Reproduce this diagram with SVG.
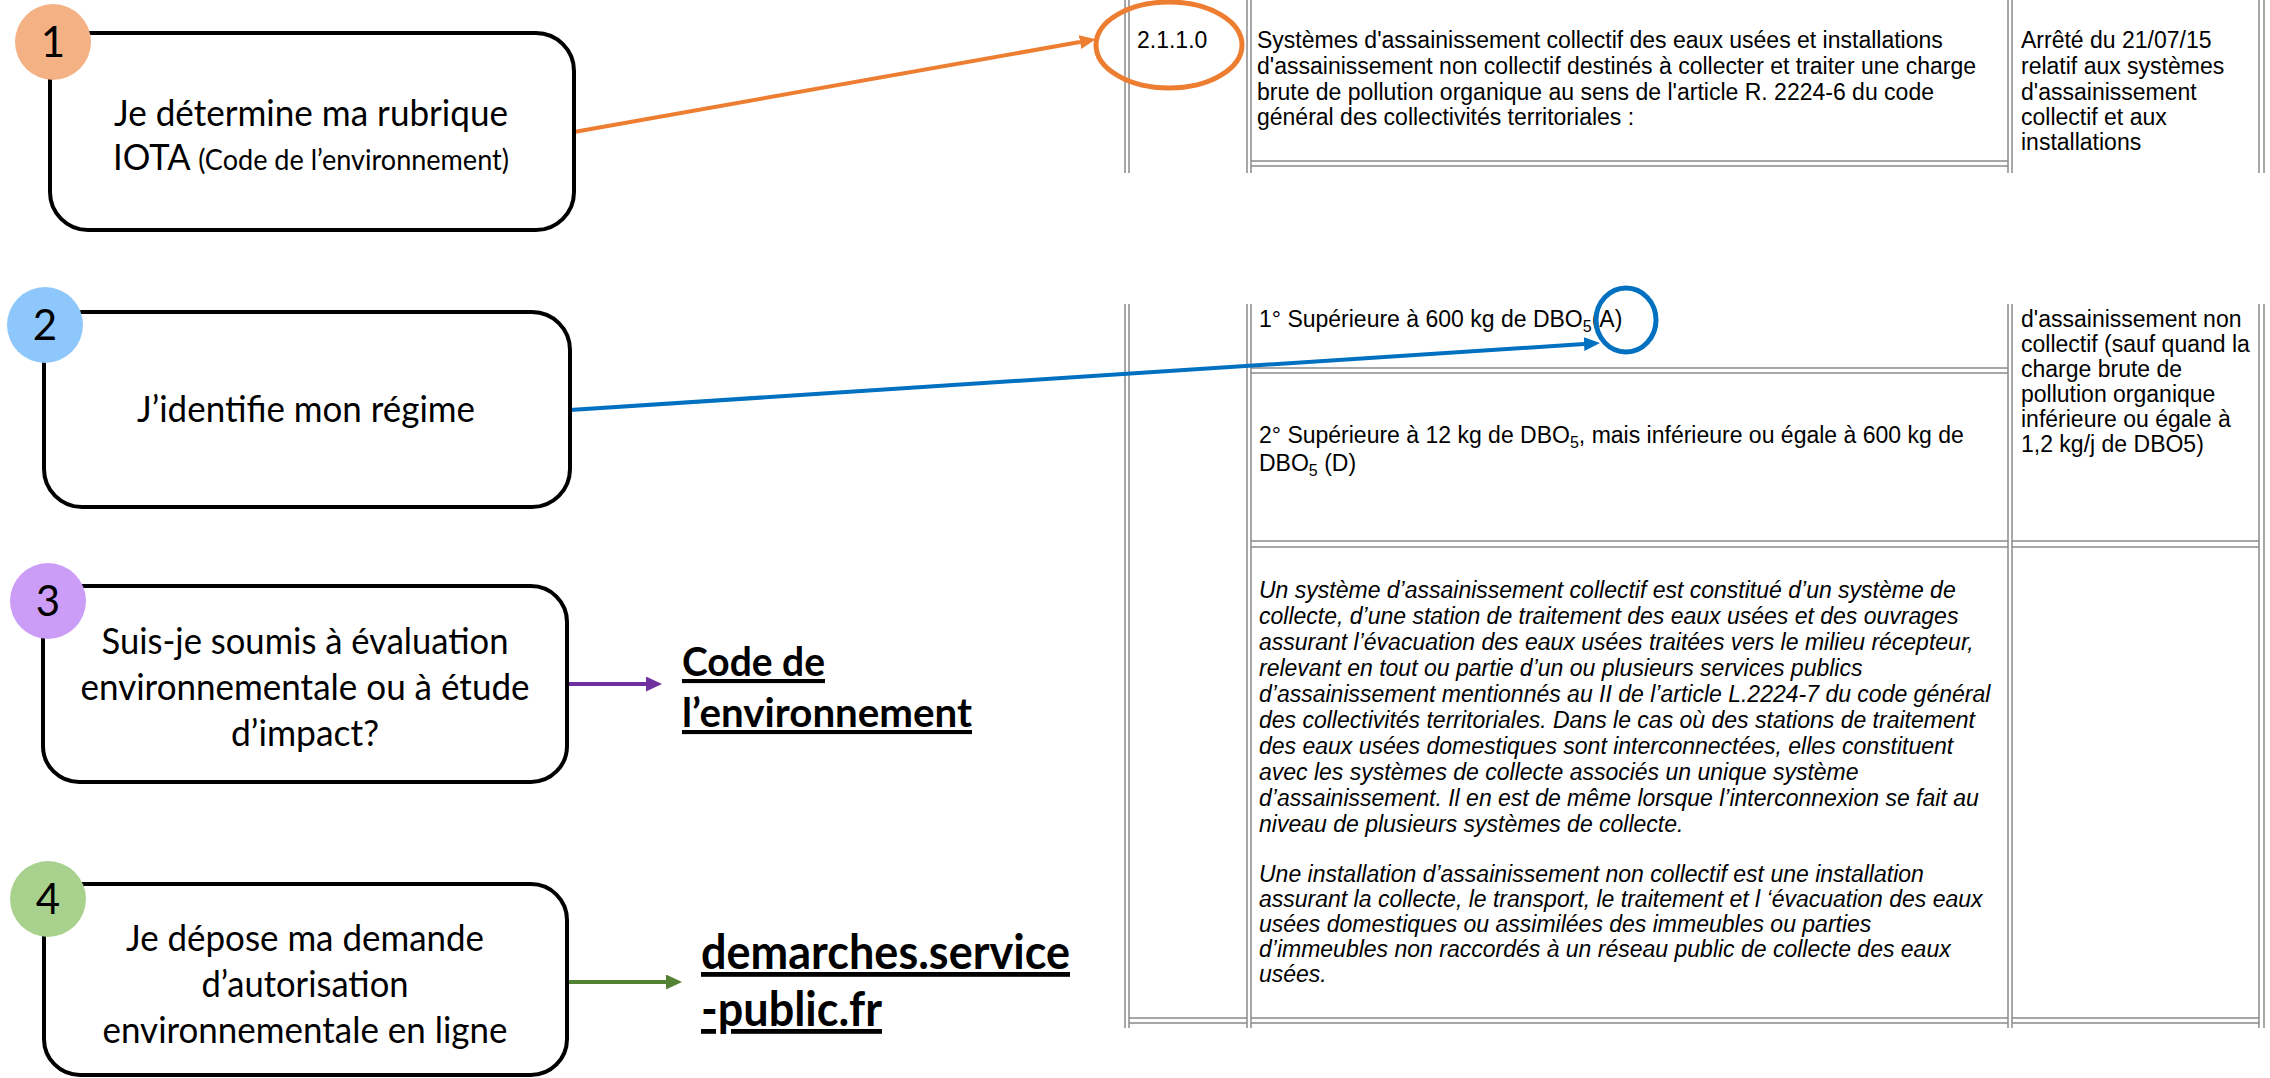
<svg xmlns="http://www.w3.org/2000/svg" width="2270" height="1078" viewBox="0 0 2270 1078">
<defs>
<style>
.box{fill:#fff;stroke:#000;stroke-width:4}
.num{font-family:Lato,'Open Sans',sans-serif;font-size:42px;fill:#000;text-anchor:middle}
.lbl{font-family:Lato,'Open Sans',sans-serif;font-size:37px;fill:#000;text-anchor:middle}
.link{font-family:Lato,'Open Sans',sans-serif;font-weight:bold;fill:#000;text-decoration:underline}
.tb{font-family:'Liberation Sans',Arial,sans-serif;font-size:23px;fill:#000}
.it{font-style:italic}
.grid line{stroke:#8a8a8a;stroke-width:1.5}
.conn{fill:none;stroke-width:4}
.hl{fill:none;stroke-width:5}
</style>
<marker id="ah-o" markerUnits="userSpaceOnUse" viewBox="0 0 16 14" markerWidth="16" markerHeight="14" refX="0" refY="7" orient="auto"><path d="M0,0 L16,7 L0,14 z" fill="#ED7D31"/></marker>
<marker id="ah-b" markerUnits="userSpaceOnUse" viewBox="0 0 16 14" markerWidth="16" markerHeight="14" refX="0" refY="7" orient="auto"><path d="M0,0 L16,7 L0,14 z" fill="#0070C0"/></marker>
<marker id="ah-p" markerUnits="userSpaceOnUse" viewBox="0 0 16 15" markerWidth="16" markerHeight="15" refX="0" refY="7.5" orient="auto"><path d="M0,0 L16,7.5 L0,15 z" fill="#7030A0"/></marker>
<marker id="ah-g" markerUnits="userSpaceOnUse" viewBox="0 0 16 15" markerWidth="16" markerHeight="15" refX="0" refY="7.5" orient="auto"><path d="M0,0 L16,7.5 L0,15 z" fill="#548235"/></marker>
</defs>
<rect width="2270" height="1078" fill="#fff"/>

<!-- Table excerpt -->
<g id="table" class="grid">
  <!-- top piece -->
  <line x1="1125" y1="0" x2="1125" y2="173"/>
  <line x1="1129" y1="0" x2="1129" y2="173"/>
  <line x1="1247" y1="0" x2="1247" y2="173"/>
  <line x1="1251" y1="0" x2="1251" y2="173"/>
  <line x1="2008" y1="0" x2="2008" y2="173"/>
  <line x1="2012" y1="0" x2="2012" y2="173"/>
  <line x1="2259" y1="0" x2="2259" y2="173"/>
  <line x1="2264" y1="0" x2="2264" y2="173"/>
  <line x1="1251" y1="161" x2="2008" y2="161"/>
  <line x1="1251" y1="166" x2="2008" y2="166"/>
  <!-- second piece -->
  <line x1="1125" y1="304" x2="1125" y2="1028"/>
  <line x1="1129" y1="304" x2="1129" y2="1028"/>
  <line x1="1247" y1="304" x2="1247" y2="1028"/>
  <line x1="1251" y1="304" x2="1251" y2="1028"/>
  <line x1="2008" y1="304" x2="2008" y2="1028"/>
  <line x1="2012" y1="304" x2="2012" y2="1028"/>
  <line x1="2259" y1="304" x2="2259" y2="1028"/>
  <line x1="2264" y1="304" x2="2264" y2="1028"/>
  <line x1="1251" y1="368" x2="2008" y2="368"/>
  <line x1="1251" y1="373" x2="2008" y2="373"/>
  <line x1="1251" y1="541" x2="2008" y2="541"/>
  <line x1="1251" y1="547" x2="2008" y2="547"/>
  <line x1="2012" y1="541" x2="2259" y2="541"/>
  <line x1="2012" y1="547" x2="2259" y2="547"/>
  <line x1="1129" y1="1018" x2="1247" y2="1018"/>
  <line x1="1251" y1="1018" x2="2008" y2="1018"/>
  <line x1="2012" y1="1018" x2="2259" y2="1018"/>
  <line x1="1129" y1="1023" x2="1247" y2="1023"/>
  <line x1="1251" y1="1023" x2="2008" y2="1023"/>
  <line x1="2012" y1="1023" x2="2259" y2="1023"/>

  <g class="tb">
    <text x="1137" y="48">2.1.1.0</text>
    <text x="1257" y="48">Systèmes d'assainissement collectif des eaux usées et installations</text>
    <text x="1257" y="74">d'assainissement non collectif destinés à collecter et traiter une charge</text>
    <text x="1257" y="100">brute de pollution organique au sens de l'article R. 2224-6 du code</text>
    <text x="1257" y="125">général des collectivités territoriales :</text>
    <text x="2021" y="48">Arrêté du 21/07/15</text>
    <text x="2021" y="74">relatif aux systèmes</text>
    <text x="2021" y="100">d'assainissement</text>
    <text x="2021" y="125">collectif et aux</text>
    <text x="2021" y="150">installations</text>

    <text x="1259" y="327">1° Supérieure à 600 kg de DBO<tspan font-size="16" dy="5">5</tspan><tspan dy="-5">(A)</tspan></text>
    <text x="1259" y="443">2° Supérieure à 12 kg de DBO<tspan font-size="16" dy="5">5</tspan><tspan dy="-5">, mais inférieure ou égale à 600 kg de</tspan></text>
    <text x="1259" y="471">DBO<tspan font-size="16" dy="5">5</tspan><tspan dy="-5"> (D)</tspan></text>

    <text x="2021" y="327">d'assainissement non</text>
    <text x="2021" y="352">collectif (sauf quand la</text>
    <text x="2021" y="377">charge brute de</text>
    <text x="2021" y="402">pollution organique</text>
    <text x="2021" y="427">inférieure ou égale à</text>
    <text x="2021" y="452">1,2 kg/j de DBO5)</text>

    <g class="it">
      <text x="1259" y="598">Un système d’assainissement collectif est constitué d’un système de</text>
      <text x="1259" y="624">collecte, d’une station de traitement des eaux usées et des ouvrages</text>
      <text x="1259" y="650">assurant l’évacuation des eaux usées traitées vers le milieu récepteur,</text>
      <text x="1259" y="676">relevant en tout ou partie d’un ou plusieurs services publics</text>
      <text x="1259" y="702">d’assainissement mentionnés au II de l’article L.2224-7 du code général</text>
      <text x="1259" y="728">des collectivités territoriales. Dans le cas où des stations de traitement</text>
      <text x="1259" y="754">des eaux usées domestiques sont interconnectées, elles constituent</text>
      <text x="1259" y="780">avec les systèmes de collecte associés un unique système</text>
      <text x="1259" y="806">d’assainissement. Il en est de même lorsque l’interconnexion se fait au</text>
      <text x="1259" y="832">niveau de plusieurs systèmes de collecte.</text>
      <text x="1259" y="882">Une installation d’assainissement non collectif est une installation</text>
      <text x="1259" y="907">assurant la collecte, le transport, le traitement et l ‘évacuation des eaux</text>
      <text x="1259" y="932">usées domestiques ou assimilées des immeubles ou parties</text>
      <text x="1259" y="957">d’immeubles non raccordés à un réseau public de collecte des eaux</text>
      <text x="1259" y="982">usées.</text>
    </g>
  </g>
</g>

<!-- Highlights -->
<g id="highlights">
  <ellipse cx="1169" cy="45" rx="73" ry="43" class="hl" stroke="#ED7D31"/>
  <ellipse cx="1626" cy="320" rx="30" ry="32" class="hl" stroke="#0070C0"/>
</g>

<!-- Connectors -->
<g id="connectors" class="conn">
  <line x1="574" y1="132" x2="1080" y2="42" stroke="#ED7D31" marker-end="url(#ah-o)"/>
  <line x1="570" y1="410" x2="1584" y2="344" stroke="#0070C0" marker-end="url(#ah-b)"/>
  <line x1="567" y1="684" x2="646" y2="684" stroke="#7030A0" marker-end="url(#ah-p)"/>
  <line x1="567" y1="982" x2="666" y2="982" stroke="#548235" marker-end="url(#ah-g)"/>
</g>

<!-- Step nodes -->
<g id="step1">
  <rect class="box" x="50" y="33" width="524" height="197" rx="38"/>
  <circle cx="53" cy="42" r="38" fill="#F4B183"/>
  <text class="num" x="53" y="57">1</text>
  <text class="lbl" x="311" y="126" textLength="394" lengthAdjust="spacingAndGlyphs">Je détermine ma rubrique</text>
  <text class="lbl" x="311" y="170" textLength="396" lengthAdjust="spacingAndGlyphs">IOTA <tspan font-size="29">(Code de l’environnement)</tspan></text>
</g>
<g id="step2">
  <rect class="box" x="44" y="312" width="526" height="195" rx="38"/>
  <circle cx="45" cy="325" r="38" fill="#8DC7FB"/>
  <text class="num" x="45" y="340">2</text>
  <text class="lbl" x="306" y="422" textLength="338" lengthAdjust="spacingAndGlyphs">J’identifie mon régime</text>
</g>
<g id="step3">
  <rect class="box" x="43" y="586" width="524" height="196" rx="36"/>
  <circle cx="48" cy="601" r="38" fill="#CC9DF7"/>
  <text class="num" x="48" y="616">3</text>
  <text class="lbl" x="305" y="654" textLength="407" lengthAdjust="spacingAndGlyphs">Suis-je soumis à évaluation</text>
  <text class="lbl" x="305" y="700" textLength="449" lengthAdjust="spacingAndGlyphs">environnementale ou à étude</text>
  <text class="lbl" x="305" y="746" textLength="148" lengthAdjust="spacingAndGlyphs">d’impact?</text>
</g>
<g id="step4">
  <rect class="box" x="44" y="884" width="523" height="191" rx="36"/>
  <circle cx="48" cy="899" r="38" fill="#A9D18E"/>
  <text class="num" x="48" y="914">4</text>
  <text class="lbl" x="305" y="951" textLength="358" lengthAdjust="spacingAndGlyphs">Je dépose ma demande</text>
  <text class="lbl" x="305" y="997" textLength="207" lengthAdjust="spacingAndGlyphs">d’autorisation</text>
  <text class="lbl" x="305" y="1043" textLength="405" lengthAdjust="spacingAndGlyphs">environnementale en ligne</text>
</g>

<!-- Link targets -->
<g id="link-code">
  <text class="link" x="682" y="676" font-size="41" textLength="143" lengthAdjust="spacingAndGlyphs">Code de</text>
  <text class="link" x="682" y="727" font-size="41" textLength="290" lengthAdjust="spacingAndGlyphs">l’environnement</text>
</g>
<g id="link-demarches">
  <text class="link" x="701" y="969" font-size="48" textLength="369" lengthAdjust="spacingAndGlyphs">demarches.service</text>
  <text class="link" x="701" y="1026" font-size="48" textLength="181" lengthAdjust="spacingAndGlyphs">-public.fr</text>
</g>
</svg>
